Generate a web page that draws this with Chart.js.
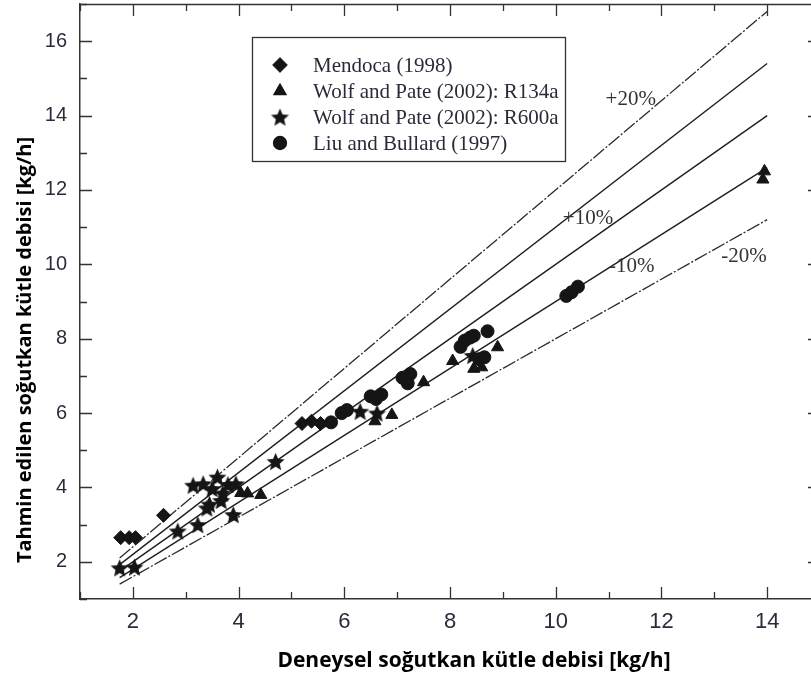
<!DOCTYPE html>
<html>
<head>
<meta charset="utf-8">
<script src="https://cdn.jsdelivr.net/npm/chart.js@4.4.1/dist/chart.umd.min.js"></script>
<style>
  html, body { margin: 0; padding: 0; background: #fff; overflow: hidden; }
  #wrap { width: 820px; height: 679px; }
</style>
</head>
<body>
<div id="wrap"><canvas id="flowChart" width="820" height="679"></canvas></div>
<script>
// Deneysel (x) ve tahmin edilen (y) kütle debileri [kg/h]
const mendocaX = [1.77, 1.93, 2.05, 2.58, 5.2, 5.38, 5.55];
const mendocaY = [2.65, 2.65, 2.65, 3.25, 5.72, 5.78, 5.72];

const r134aX = [4.04, 4.17, 4.42, 6.58, 6.9, 7.5, 8.05, 8.45, 8.6, 8.9, 13.95, 13.92];
const r134aY = [3.85, 3.84, 3.8, 5.78, 5.95, 6.83, 7.4, 7.19, 7.23, 7.77, 12.5, 12.28];

const r600aX = [1.75, 2.03, 2.85, 3.23, 3.14, 3.33, 3.6, 3.5, 3.8, 3.95, 3.45, 3.4, 3.67, 3.9, 3.7, 4.7, 6.3, 6.62, 8.43];
const r600aY = [1.84, 1.86, 2.83, 3.0, 4.06, 4.1, 4.28, 3.97, 4.08, 4.1, 3.55, 3.45, 3.65, 3.27, 3.85, 4.7, 6.05, 6.0, 7.55];

const liuX = [5.75, 5.95, 6.05, 6.5, 6.6, 6.7, 7.1, 7.2, 7.25, 8.2, 8.28, 8.38, 8.45, 8.71, 8.55, 8.65, 10.2, 10.3, 10.42];
const liuY = [5.75, 6.0, 6.08, 6.45, 6.38, 6.5, 6.95, 6.8, 7.05, 7.78, 7.95, 8.03, 8.08, 8.2, 7.45, 7.5, 9.15, 9.25, 9.4];

// Sapma çizgileri: başlangıç ve bitiş noktaları
const lineX = [1.75, 14];
const plus20Y = [2.1, 16.8];
const plus10Y = [1.925, 15.4];
const exactY = [1.75, 14];
const minus10Y = [1.575, 12.6];
const minus20Y = [1.4, 11.2];

// Sapma etiketleri
const bandLabels = ['+20%', '+10%', '-10%', '-20%'];
const bandLabelX = [11.42, 10.61, 11.44, 13.56];
const bandLabelY = [14.42, 11.24, 9.93, 10.2];

const legendNames = ['Mendoca (1998)', 'Wolf and Pate (2002): R134a', 'Wolf and Pate (2002): R600a', 'Liu and Bullard (1997)'];
const xTitle = 'Deneysel soğutkan kütle debisi [kg/h]';
const yTitle = 'Tahmin edilen soğutkan kütle debisi [kg/h]';

const toPoints = (xs, ys) => xs.map((x, i) => ({ x: x, y: ys[i] }));

// dolu beş köşeli yıldız
function starPath(g, cx, cy, ro, ri) {
  g.beginPath();
  for (let i = 0; i < 10; i++) {
    const r = i % 2 === 0 ? ro : ri;
    const a = -Math.PI / 2 + i * Math.PI / 5;
    const px = cx + r * Math.cos(a), py = cy + r * Math.sin(a);
    if (i === 0) g.moveTo(px, py); else g.lineTo(px, py);
  }
  g.closePath();
}

function makeStar(r) {
  const c = document.createElement('canvas');
  const s = Math.ceil(r * 2 + 2);
  c.width = s; c.height = s;
  const g = c.getContext('2d');
  starPath(g, s / 2, s / 2 + r * 0.1, r, r * 0.46);
  g.fillStyle = '#151515';
  g.fill();
  return c;
}
const starImg = makeStar(9.5);

const markColor = '#151515';

function pointSet(label, xs, ys, style, radius) {
  return {
    label: label,
    data: toPoints(xs, ys),
    pointStyle: style,
    pointRadius: radius,
    pointBackgroundColor: markColor,
    pointBorderColor: markColor,
    pointBorderWidth: 1,
    showLine: false,
    order: 1
  };
}

function lineSet(ys, dashed) {
  return {
    data: toPoints(lineX, ys),
    showLine: true,
    pointRadius: 0,
    borderColor: dashed ? '#2a2a2a' : '#1e1e1e',
    borderWidth: dashed ? 1.3 : 1.4,
    borderDash: dashed ? [14, 2, 2, 2] : [],
    order: 2
  };
}

// çerçeve, içe dönük tikler, eksen başlıkları, gösterge kutusu ve yüzde etiketleri
const framePlugin = {
  id: 'frame',
  afterDraw(chart) {
    const ctx = chart.ctx;
    const a = chart.chartArea;
    const xs = chart.scales.x, ys = chart.scales.y;
    ctx.save();
    ctx.strokeStyle = '#333';
    ctx.lineWidth = 1.5;
    ctx.beginPath();
    ctx.moveTo(a.left, a.top + 0.5); ctx.lineTo(a.right, a.top + 0.5);
    ctx.moveTo(a.right, a.top); ctx.lineTo(a.right, a.bottom);
    ctx.stroke();

    ctx.lineWidth = 1.3;
    ctx.beginPath();
    xs.ticks.forEach(t => {
      const len = t.value % 2 === 0 ? 12 : 7;
      const px = Math.round(xs.getPixelForValue(t.value)) + 0.5;
      ctx.moveTo(px, a.bottom); ctx.lineTo(px, a.bottom - len);
      ctx.moveTo(px, a.top); ctx.lineTo(px, a.top + len);
    });
    ys.ticks.forEach(t => {
      const len = t.value % 2 === 0 ? 12 : 7;
      const py = Math.round(ys.getPixelForValue(t.value)) + 0.5;
      ctx.moveTo(a.left, py); ctx.lineTo(a.left + len, py);
      ctx.moveTo(a.right, py); ctx.lineTo(a.right - len, py);
    });
    ctx.stroke();

    // eksen başlıkları
    ctx.fillStyle = '#000';
    ctx.textAlign = 'center';
    ctx.textBaseline = 'middle';
    ctx.font = 'bold 21px "Open Sans", sans-serif';
    ctx.fillText(xTitle, 474, 661);
    ctx.save();
    ctx.translate(25, 350);
    ctx.rotate(-Math.PI / 2);
    ctx.font = 'bold 20px "Open Sans", sans-serif';
    ctx.fillText(yTitle, 0, 0);
    ctx.restore();

    // gösterge
    const bx = 252, by = 37, bw = 313, bh = 124;
    ctx.fillStyle = '#fff';
    ctx.fillRect(bx, by, bw, bh);
    ctx.strokeStyle = '#333';
    ctx.lineWidth = 1.3;
    ctx.strokeRect(bx + 0.5, by + 0.5, bw, bh);
    const styles = ['rectRot', 'triangle', 'star', 'circle'];
    const radii = [7, 7, 9.5, 6.5];
    ctx.font = '21px "Liberation Serif", "Times New Roman", serif';
    ctx.textBaseline = 'middle';
    legendNames.forEach((name, i) => {
      const cy = 65 + i * 26;
      const cx = 280;
      if (styles[i] === 'star') {
        ctx.drawImage(starImg, cx - starImg.width / 2, cy - starImg.height / 2);
      } else {
        Chart.helpers.drawPoint(ctx, {
          pointStyle: styles[i], radius: radii[i], borderWidth: 1, rotation: 0
        }, cx, cy);
        ctx.fillStyle = markColor;
        ctx.strokeStyle = markColor;
        ctx.fill();
      }
      ctx.fillStyle = '#2a2a3a';
      ctx.textAlign = 'left';
      ctx.fillText(name, 313, cy + 1);
    });

    ctx.font = '21px "Liberation Serif", "Times New Roman", serif';
    ctx.fillStyle = '#333';
    ctx.textAlign = 'center';
    bandLabels.forEach((t, i) => {
      ctx.fillText(t, xs.getPixelForValue(bandLabelX[i]), ys.getPixelForValue(bandLabelY[i]));
    });
    ctx.restore();
  }
};

const tickColor = '#2b2b3d';

// eksen kutularının kenar boşluklarını sıfırla, çizim alanı sabit kalsın
function fixBox(s, w, h) {
  if (w) s.width = w;
  if (h) s.height = h;
  s.paddingTop = 0; s.paddingBottom = 0;
  s.paddingLeft = 0; s.paddingRight = 0;
}

new Chart(document.getElementById('flowChart'), {
  type: 'scatter',
  data: {
    datasets: [
      pointSet(legendNames[0], mendocaX, mendocaY, 'rectRot', 7),
      pointSet(legendNames[1], r134aX, r134aY, 'triangle', 7),
      pointSet(legendNames[2], r600aX, r600aY, starImg, 9.5),
      pointSet(legendNames[3], liuX, liuY, 'circle', 6.5),
      lineSet(plus20Y, true),
      lineSet(plus10Y, false),
      lineSet(exactY, false),
      lineSet(minus10Y, false),
      lineSet(minus20Y, true)
    ]
  },
  options: {
    responsive: false,
    animation: false,
    devicePixelRatio: 1,
    layout: { autoPadding: false, padding: { top: 4, right: 0, left: 0, bottom: 0 } },
    plugins: { legend: { display: false }, tooltip: { enabled: false } },
    scales: {
      x: {
        type: 'linear', min: 1, max: 15,
        ticks: {
          stepSize: 1, autoSkip: false, maxRotation: 0, padding: 10,
          color: tickColor,
          font: { family: '"Liberation Sans Narrow", "Liberation Sans", Arial, sans-serif', size: 22 },
          callback: v => (Number.isInteger(v) && v % 2 === 0 && v >= 2 && v <= 14) ? v : ''
        },
        grid: { drawOnChartArea: false, drawTicks: false },
        border: { color: '#333', width: 1.5 },
        afterFit: s => fixBox(s, 0, 80)
      },
      y: {
        type: 'linear', min: 1, max: 17,
        ticks: {
          stepSize: 1, autoSkip: false, padding: 13,
          color: tickColor,
          font: { family: '"Liberation Sans", Arial, sans-serif', size: 20 },
          callback: v => (Number.isInteger(v) && v % 2 === 0 && v >= 2 && v <= 16) ? v : ''
        },
        grid: { drawOnChartArea: false, drawTicks: false },
        border: { color: '#333', width: 1.5 },
        afterFit: s => fixBox(s, 80, 0)
      }
    }
  },
  plugins: [framePlugin]
});
</script>
</body>
</html>
